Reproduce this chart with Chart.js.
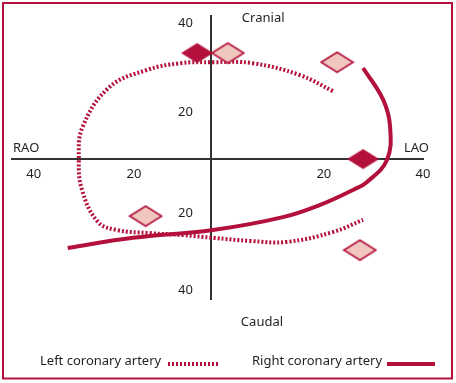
<!DOCTYPE html>
<html>
<head>
<meta charset="utf-8">
<script src="https://cdn.jsdelivr.net/npm/chart.js@4"></script>
<style>
    body { margin: 0; background: #fff; }
    #wrap { width: 456px; height: 383px; }
</style>
</head>
<body>
<div id="wrap"><canvas id="viewChart" width="456" height="383"></canvas></div>
<script>
// --- DATA (angle units, schematic) ---
const leftX = [23.0, 16.8, 7.9, 0.4, -5.8, -12.1, -19.1, -24.2, -24.9, -24.3, -21.3, -17.7, -11.5, -5.3, 0.4, 7.4, 14.3, 23.0, 28.7];
const leftY = [20.0, 24.7, 28.2, 28.5, 28.2, 26.2, 21.2, 9.4, -0.3, -9.1, -18.5, -20.9, -21.8, -22.4, -23.2, -24.1, -24.4, -21.5, -17.9];

const rightX = [28.7, 32.5, 33.8, 33.2, 29.4, 26.8, 20.6, 13.6, 0.4, -14.7, -27.0];
const rightY = [26.8, 17.4, 9.4, -0.3, -6.8, -9.1, -13.5, -17.1, -20.9, -23.2, -26.2];

const darkViewX = [-2.6, 28.7];
const darkViewY = [31.2, 0];
const lightViewX = [3.2, 23.8, -12.3, 28.1];
const lightViewY = [31.2, 28.5, -16.8, -26.8];

const xTickValues = [-33.4, -14.5, 21.3, 40];
const xTickLabels = ['40', '20', '20', '40'];
const yTickValues = [40, 13.8, -15.9, -38.5];
const yTickLabels = ['40', '20', '20', '40'];

const directionLabels = ['Cranial', 'Caudal', 'RAO', 'LAO'];
const legendLabels = ['Left coronary artery', 'Right coronary artery'];

const CRIMSON = '#b3103c';
const PINK = '#f0c6be';
const INK = '#231f20';
const FONT = '"Noto Sans", "Open Sans", sans-serif';

// --- diamond markers ---
function makeDiamond(fill, stroke) {
    const c = document.createElement('canvas');
    c.width = 35; c.height = 23;
    const g = c.getContext('2d');
    g.beginPath();
    g.moveTo(1.5, 11.5); g.lineTo(17.5, 1.5); g.lineTo(33.5, 11.5); g.lineTo(17.5, 21.5);
    g.closePath();
    g.fillStyle = fill;
    g.fill();
    if (stroke) { g.strokeStyle = stroke; g.lineWidth = 1.6; g.stroke(); }
    return c;
}
const darkDiamond = makeDiamond(CRIMSON, null);
const lightDiamond = makeDiamond(PINK, CRIMSON);

const pts = (xs, ys) => xs.map((x, i) => ({ x: x, y: ys[i] }));

// --- extra drawing: y tick labels, direction labels, legend, frame ---
const decorPlugin = {
    id: 'decor',
    afterDraw(chart) {
        const ctx = chart.ctx;
        const area = chart.chartArea;
        const yScale = chart.scales.y;
        const x0 = chart.scales.x.getPixelForValue(0);
        const y0 = yScale.getPixelForValue(0);
        ctx.save();
        ctx.fillStyle = INK;
        ctx.font = '13px ' + FONT;
        ctx.textBaseline = 'middle';

        // y ticks sit left of the vertical axis
        ctx.textAlign = 'right';
        yTickValues.forEach((v, i) => {
            ctx.fillText(yTickLabels[i], x0 - 18, yScale.getPixelForValue(v));
        });

        ctx.textAlign = 'left';
        ctx.fillText(directionLabels[0], x0 + 31, area.top + 2);
        ctx.fillText(directionLabels[1], x0 + 30, 322);
        ctx.fillText(directionLabels[2], area.left + 1, y0 - 11);
        ctx.textAlign = 'right';
        ctx.fillText(directionLabels[3], 429, y0 - 11);

        // legend
        ctx.textAlign = 'left';
        ctx.fillText(legendLabels[0], 40, 361);
        ctx.fillText(legendLabels[1], 252, 361);
        ctx.lineWidth = 4;
        ctx.strokeStyle = CRIMSON;
        ctx.setLineDash([2, 2]);
        ctx.beginPath(); ctx.moveTo(168, 364); ctx.lineTo(219, 364); ctx.stroke();
        ctx.setLineDash([]);
        ctx.beginPath(); ctx.moveTo(387, 364); ctx.lineTo(435, 364); ctx.stroke();

        // frame
        ctx.lineWidth = 2;
        ctx.strokeRect(3, 3, 449, 375.5);
        ctx.restore();
    }
};

const ctx = document.getElementById('viewChart').getContext('2d');
new Chart(ctx, {
    type: 'scatter',
    data: {
        datasets: [
            { label: 'darkViews', data: pts(darkViewX, darkViewY), pointStyle: darkDiamond, order: 0 },
            { label: 'lightViews', data: pts(lightViewX, lightViewY), pointStyle: lightDiamond, order: 0 },
            { label: legendLabels[0], data: pts(leftX, leftY), showLine: true, tension: 0.4, pointRadius: 0,
              borderColor: CRIMSON, borderWidth: 4, borderDash: [2, 2], borderCapStyle: 'butt', order: 2 },
            { label: legendLabels[1], data: pts(rightX, rightY), showLine: true, tension: 0.4, pointRadius: 0,
              borderColor: CRIMSON, borderWidth: 4, order: 1 }
        ]
    },
    options: {
        responsive: false,
        animation: false,
        devicePixelRatio: 1,
        layout: { padding: { left: 12, right: 33, top: 16, bottom: 84 } },
        plugins: { legend: { display: false }, tooltip: { enabled: false } },
        scales: {
            x: {
                type: 'linear', min: -37.5, max: 40,
                position: { y: 0 },
                grid: { display: false, drawTicks: false },
                border: { display: true, color: '#333', width: 2 },
                afterBuildTicks: s => { s.ticks = xTickValues.map(v => ({ value: v })); },
                ticks: { autoSkip: false, maxRotation: 0, padding: 7, color: INK, font: { family: FONT, size: 13 },
                         callback: (v, i) => xTickLabels[i] }
            },
            y: {
                type: 'linear', min: -41.2, max: 42.1,
                position: { x: 0 },
                grid: { display: false, drawTicks: false },
                border: { display: true, color: '#333', width: 2 },
                ticks: { display: false }
            }
        }
    },
    plugins: [decorPlugin]
});
</script>
</body>
</html>
